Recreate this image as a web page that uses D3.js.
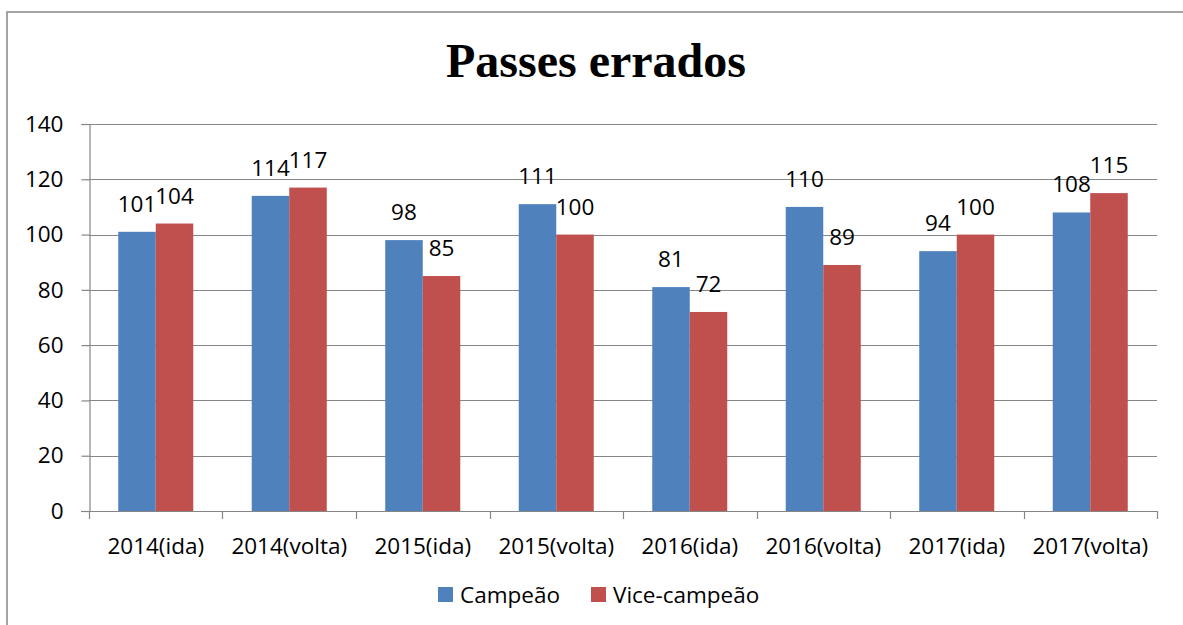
<!DOCTYPE html>
<html>
<head>
<meta charset="utf-8">
<script src="https://cdn.jsdelivr.net/npm/d3@7"></script>
<style>
  body { margin: 0; background: #fff; }
  svg { display: block; }
</style>
</head>
<body>
<svg id="chart" width="1183" height="625"></svg>
<script>
// values
var categories = ["2014(ida)", "2014(volta)", "2015(ida)", "2015(volta)", "2016(ida)", "2016(volta)", "2017(ida)", "2017(volta)"];
var seriesNames = ["Campeão", "Vice-campeão"];
var campeao = [101, 114, 98, 111, 81, 110, 94, 108];
var vice = [104, 117, 85, 100, 72, 89, 100, 115];
var yTicks = [0, 20, 40, 60, 80, 100, 120, 140];
var colors = ["#4F81BD", "#C0504D"];

var svg = d3.select("#chart");
var font = "'Open Sans', sans-serif";
var gridColor = "#868686";

// chart frame (only left + top visible in the picture)
svg.append("rect")
  .attr("x", 7).attr("y", 12)
  .attr("width", 1200).attr("height", 640)
  .attr("fill", "none")
  .attr("stroke", gridColor)
  .attr("stroke-width", 1.5);

// title
svg.append("text")
  .attr("x", 596).attr("y", 77)
  .attr("text-anchor", "middle")
  .attr("font-family", "'Liberation Serif', 'Times New Roman', serif")
  .attr("font-weight", "bold")
  .attr("font-size", 48)
  .text("Passes errados");

var plotL = 89, plotR = 1157, plotT = 124, plotB = 511;

var y = d3.scaleLinear().domain([0, 140]).range([plotB, plotT]);
var x = d3.scaleBand().domain(categories).range([plotL, plotR])
  .paddingInner(0.438).paddingOuter(0.219);
var xs = d3.scaleBand().domain(seriesNames).range([0, x.bandwidth()]);

// gridlines
svg.append("g").selectAll("line")
  .data(yTicks.filter(function(d) { return d > 0; }))
  .enter().append("line")
  .attr("x1", plotL).attr("x2", plotR)
  .attr("y1", function(d) { return Math.round(y(d)) + 0.5; })
  .attr("y2", function(d) { return Math.round(y(d)) + 0.5; })
  .attr("stroke", gridColor).attr("stroke-width", 1.2);

// y axis
var yAxis = svg.append("g")
  .attr("transform", "translate(" + (plotL + 0.5) + ",0)")
  .call(d3.axisLeft(y).tickValues(yTicks).tickSize(8).tickPadding(18));
yAxis.select(".domain").attr("stroke", gridColor).attr("stroke-width", 1.2);
yAxis.selectAll(".tick line").attr("stroke", gridColor).attr("stroke-width", 1.2);
yAxis.selectAll(".tick text")
  .attr("font-family", font).attr("font-size", 22.5).attr("fill", "#000");

// bars
var data = categories.map(function(c, i) {
  return { cat: c, vals: [{ s: seriesNames[0], v: campeao[i] }, { s: seriesNames[1], v: vice[i] }] };
});

var groups = svg.append("g").selectAll("g")
  .data(data).enter().append("g")
  .attr("transform", function(d) { return "translate(" + x(d.cat) + ",0)"; });

groups.selectAll("rect")
  .data(function(d) { return d.vals; })
  .enter().append("rect")
  .attr("x", function(d) { return xs(d.s); })
  .attr("width", xs.bandwidth())
  .attr("y", function(d) { return y(d.v); })
  .attr("height", function(d) { return y(0) - y(d.v); })
  .attr("fill", function(d, i) { return colors[i]; });

groups.selectAll("text")
  .data(function(d) { return d.vals; })
  .enter().append("text")
  .attr("x", function(d) { return xs(d.s) + xs.bandwidth() / 2; })
  .attr("y", function(d) { return y(d.v) - 20; })
  .attr("text-anchor", "middle")
  .attr("font-family", font).attr("font-size", 22.5)
  .text(function(d) { return d.v; });

// x axis
svg.append("line")
  .attr("x1", plotL - 8).attr("x2", plotR)
  .attr("y1", plotB + 0.5).attr("y2", plotB + 0.5)
  .attr("stroke", gridColor).attr("stroke-width", 1.2);

var bounds = categories.map(function(c) { return x(c) - x.step() * 0.219; });
bounds.push(plotR);
svg.append("g").selectAll("line")
  .data(bounds).enter().append("line")
  .attr("x1", function(d) { return Math.round(d) + 0.5; })
  .attr("x2", function(d) { return Math.round(d) + 0.5; })
  .attr("y1", plotB).attr("y2", plotB + 8)
  .attr("stroke", gridColor).attr("stroke-width", 1.2);

svg.append("g").selectAll("text")
  .data(categories).enter().append("text")
  .attr("x", function(d) { return x(d) + x.bandwidth() / 2; })
  .attr("y", 554)
  .attr("text-anchor", "middle")
  .attr("font-family", font).attr("font-size", 22.5)
  .text(function(d) { return d; });

// legend
var legendX = [438, 591];
var legend = svg.append("g").selectAll("g")
  .data(seriesNames).enter().append("g")
  .attr("transform", function(d, i) { return "translate(" + legendX[i] + ",587)"; });
legend.append("rect")
  .attr("width", 15).attr("height", 15)
  .attr("fill", function(d, i) { return colors[i]; });
legend.append("text")
  .attr("x", 22).attr("y", 16)
  .attr("font-family", font).attr("font-size", 22.5)
  .text(function(d) { return d; });
</script>
</body>
</html>
